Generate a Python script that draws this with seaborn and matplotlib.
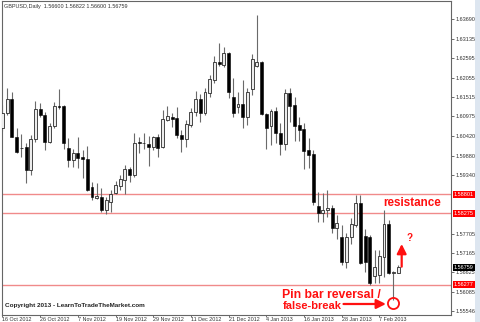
import numpy as np
import matplotlib
matplotlib.use("Agg")
import matplotlib.pyplot as plt
import seaborn as sns
from matplotlib.patches import Rectangle

# ---------------- data ----------------
opens = [1.60650, 1.61068, 1.61459, 1.60399, 1.60078, 1.60120, 1.59479, 1.60343, 1.61180, 1.61013,
         1.60260, 1.60706, 1.61250, 1.61264, 1.60092, 1.59758, 1.59953, 1.59841, 1.59785, 1.59005,
         1.58698, 1.58726, 1.58363, 1.58586, 1.58837, 1.59032, 1.59200, 1.59507, 1.59339, 1.60260,
         1.60232, 1.60204, 1.60120, 1.60399, 1.60120, 1.60873, 1.60957, 1.60929, 1.60455, 1.60343,
         1.60734, 1.61096, 1.61459, 1.61068, 1.61626, 1.61989, 1.62491, 1.62407, 1.62742, 1.61515,
         1.61236, 1.61319, 1.60957, 1.61738, 1.62379, 1.62491, 1.61040, 1.60706, 1.61124, 1.60511,
         1.60204, 1.61626, 1.61292, 1.60734, 1.60622, 1.60036, 1.59925, 1.58475, 1.58279, 1.58363,
         1.58419, 1.57861, 1.57610, 1.56913, 1.57610, 1.57945, 1.58558, 1.57638, 1.57610, 1.56522,
         1.56550, 1.57052, 1.57973, 1.56592, 1.56600]
highs = [1.61292, 1.61766, 1.61654, 1.60650, 1.60483, 1.60232, 1.60455, 1.61403, 1.61347, 1.61096,
         1.60789, 1.61375, 1.61738, 1.61292, 1.60371, 1.60064, 1.60399, 1.60036, 1.60148, 1.59144,
         1.59116, 1.58977, 1.58726, 1.58921, 1.59172, 1.59339, 1.59618, 1.59562, 1.60511, 1.60399,
         1.60511, 1.60427, 1.60427, 1.60483, 1.61152, 1.61264, 1.61068, 1.61236, 1.60594, 1.60873,
         1.61208, 1.61682, 1.61598, 1.61766, 1.62128, 1.62658, 1.63021, 1.62909, 1.62770, 1.62045,
         1.61654, 1.61989, 1.61766, 1.62714, 1.63802, 1.62519, 1.61068, 1.61180, 1.61236, 1.60789,
         1.61738, 1.61766, 1.61515, 1.60957, 1.60789, 1.60371, 1.60036, 1.58865, 1.58837, 1.58921,
         1.58503, 1.58224, 1.57945, 1.57722, 1.58140, 1.58781, 1.58781, 1.57833, 1.57666, 1.57247,
         1.57247, 1.58363, 1.58084, 1.56662, 1.56822]
lows = [1.60566, 1.61013, 1.60385, 1.59953, 1.59841, 1.59116, 1.59339, 1.60260, 1.60957, 1.60036,
        1.60232, 1.60650, 1.61180, 1.60064, 1.59562, 1.59562, 1.59534, 1.59256, 1.58893, 1.58642,
        1.58680, 1.58307, 1.58251, 1.58307, 1.58809, 1.58921, 1.58809, 1.59144, 1.59283, 1.59953,
        1.60064, 1.59590, 1.60036, 1.59841, 1.60100, 1.60845, 1.60678, 1.60371, 1.59981, 1.60120,
        1.60678, 1.60985, 1.60817, 1.61013, 1.61515, 1.61905, 1.62379, 1.62351, 1.61487, 1.60957,
        1.61068, 1.60650, 1.60734, 1.61570, 1.62365, 1.61013, 1.60064, 1.60176, 1.60232, 1.59897,
        1.60036, 1.60817, 1.60287, 1.60287, 1.59507, 1.59534, 1.58503, 1.58028, 1.58028, 1.58168,
        1.57722, 1.57554, 1.56829, 1.56745, 1.57415, 1.57889, 1.56870, 1.56634, 1.56277, 1.56327,
        1.56327, 1.56494, 1.56578, 1.55853, 1.56600]
closes = [1.61068, 1.61459, 1.60399, 1.59981, 1.60092, 1.59479, 1.60343, 1.61180, 1.61013, 1.60260,
          1.60706, 1.61264, 1.61236, 1.60232, 1.59758, 1.59953, 1.59813, 1.59785, 1.58921, 1.58726,
          1.58754, 1.58363, 1.58642, 1.58809, 1.59060, 1.59228, 1.59507, 1.59339, 1.60232, 1.60232,
          1.60218, 1.60120, 1.60399, 1.60092, 1.60901, 1.60985, 1.60901, 1.60455, 1.60343, 1.60762,
          1.61096, 1.61459, 1.61068, 1.61654, 1.62017, 1.62491, 1.62435, 1.62742, 1.61654, 1.61068,
          1.61319, 1.60957, 1.61654, 1.62574, 1.62491, 1.61040, 1.60650, 1.61124, 1.60511, 1.60204,
          1.61626, 1.61264, 1.60706, 1.60594, 1.60009, 1.59897, 1.58586, 1.58279, 1.58363, 1.58419,
          1.57861, 1.58000, 1.56913, 1.57610, 1.57973, 1.58558, 1.56885, 1.56913, 1.56327, 1.56773,
          1.57080, 1.57973, 1.56606, 1.56620, 1.56759]

date_labels = ["16 Oct 2012", "26 Oct 2012", "7 Nov 2012", "19 Nov 2012", "29 Nov 2012",
               "11 Dec 2012", "21 Dec 2012", "4 Jan 2013", "16 Jan 2013", "28 Jan 2013", "7 Feb 2013"]
date_label_idx = [0, 8, 16, 24, 32, 40, 48, 56, 64, 72, 80]
price_ticks = [1.63690, 1.63135, 1.62595, 1.62055, 1.61515, 1.60975, 1.60420, 1.59880,
               1.59340, 1.57705, 1.57165, 1.56625, 1.56085, 1.55546]
resistance_levels = [1.58801, 1.58275]
support_level = 1.56277
last_price = 1.56759
title_text = "GBPUSD,Daily  1.56600 1.56822 1.56600 1.56759"

# ---------------- style ----------------
sns.set_style("white")
plt.rcParams["font.family"] = ["Liberation Sans", "DejaVu Sans"]

W, H = 480, 322
fig = plt.figure(figsize=(W / 100, H / 100), dpi=100)
fig.patch.set_facecolor("white")
ax = fig.add_axes([1.5 / W, 1 - 315 / H, 449.5 / W, 314 / H])

o = np.array(opens); h = np.array(highs); l = np.array(lows); c = np.array(closes)
x = np.arange(len(o))
bull = c >= o
bottom = np.minimum(o, c)
height = np.maximum(np.abs(c - o), 0.00022)

ax.vlines(x, l, h, color="#6a6a6a", lw=0.8, zorder=2)
ax.bar(x[bull], height[bull], bottom=bottom[bull], width=0.62, color="#ececec",
       edgecolor="#2a2a2a", linewidth=0.6, zorder=3)
ax.bar(x[~bull], height[~bull], bottom=bottom[~bull], width=0.62, color="black",
       edgecolor="black", linewidth=0.4, zorder=3)

for lev in resistance_levels + [support_level]:
    ax.axhline(lev, color="#f08a8a", lw=1.0, zorder=1)

ax.set_xlim(-0.21, 95.22)
ax.set_ylim(1.55434, 1.64192)

# axes ticks
ax.yaxis.tick_right()
ax.set_yticks(price_ticks)
ax.set_yticklabels([f"{p:.5f}" for p in price_ticks])
ax.tick_params(axis="y", labelsize=4, length=2, width=0.5, pad=1.2, colors="#333333", right=True, left=False)
ax.set_xticks(date_label_idx)
ax.set_xticklabels(date_labels, ha="left")
ax.tick_params(axis="x", labelsize=3.9, length=1.2, width=0.5, pad=0.2, colors="#333333", bottom=True)
for sp in ax.spines.values():
    sp.set_color("#666666")
    sp.set_linewidth(0.8)

# price labels on the axis
for lev in resistance_levels + [support_level]:
    ax.annotate(f"{lev:.5f}", xy=(1, lev), xycoords=("axes fraction", "data"), xytext=(2.2, 0),
                textcoords="offset points", ha="left", va="center", fontsize=4, color="white",
                bbox=dict(boxstyle="square,pad=0.2", fc="#ff0000", ec="none"), annotation_clip=False, zorder=10)
ax.annotate(f"{last_price:.5f}", xy=(1, last_price), xycoords=("axes fraction", "data"), xytext=(2.2, 0),
            textcoords="offset points", ha="left", va="center", fontsize=4, color="white",
            bbox=dict(boxstyle="square,pad=0.2", fc="black", ec="none"), annotation_clip=False, zorder=10)

# annotations
red = "#ff1010"
ax.text(80.8, 1.58558, "resistance", color=red, fontsize=8.4, fontweight="bold", ha="left", va="center", zorder=6)
ax.text(86.5, 1.57582, "?", color=red, fontsize=7, fontweight="bold", ha="center", va="center", zorder=6)
ax.annotate("", xy=(84.75, 1.57415), xytext=(84.75, 1.56782),
            arrowprops=dict(arrowstyle="-|>,head_width=0.35,head_length=0.7", color=red, lw=1.6,
                            mutation_scale=8, shrinkA=0, shrinkB=0), zorder=6)
ax.text(59.3, 1.55992, "Pin bar reversal /", color=red, fontsize=8.8, fontweight="bold", ha="left", va="center", zorder=6)
ax.text(59.4, 1.55686, "false-break", color=red, fontsize=8.0, fontweight="bold", ha="left", va="center", zorder=6)
ax.annotate("", xy=(81.4, 1.55741), xytext=(72.4, 1.55741),
            arrowprops=dict(arrowstyle="-|>,head_width=0.35,head_length=0.7", color=red, lw=1.6,
                            mutation_scale=8, shrinkA=0, shrinkB=0), zorder=6)
ax.plot([83], [1.55769], marker="o", ms=8, mfc="none", mec=red, mew=1.3, zorder=7)

fig.text(5 / W, 1 - 306 / H, "Copyright 2013 - LearnToTradeTheMarket.com", fontsize=4.6,
         fontweight="bold", color="#222222", va="center", ha="left")
fig.text(4 / W, 1 - 6.5 / H, title_text, fontsize=4, color="#333333", va="center", ha="left")

fig.patches.append(Rectangle((475 / W, 0), 5 / W, 1, transform=fig.transFigure,
                             facecolor="#dde6f0", edgecolor="none", zorder=0))

fig.savefig("out.png", dpi=100)
